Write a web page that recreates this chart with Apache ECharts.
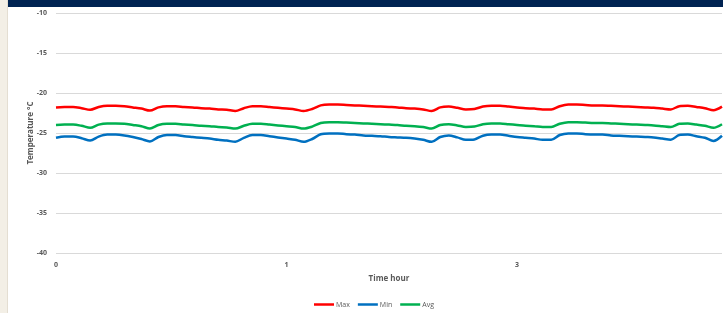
<!DOCTYPE html>
<html>
<head>
<meta charset="utf-8">
<script src="https://cdn.jsdelivr.net/npm/echarts@6/dist/echarts.min.js"></script>
<style>
  html, body { margin: 0; padding: 0; background: #fff; }
  #side { position: absolute; left: 0; top: 0; width: 7px; height: 313px; background: #f3efe6; border-right: 1px solid #e4ded2; }
  #head { position: absolute; left: 8px; top: 0; width: 715px; height: 7px; background: #002352; }
  #chart { position: absolute; left: 0; top: 0; width: 723px; height: 313px; }
</style>
</head>
<body>
<div id="chart"></div>
<div id="side"></div>
<div id="head"></div>
<script>
// x labels shown every 27 samples
const xLabels = ['0', '1', '3']
const labelStep = 27

// temperature readings, °C
const maxTemp = [
  -21.8, -21.75, -21.75, -21.9, -22.1, -21.75, -21.6, -21.6, -21.65, -21.8,
  -21.95, -22.2, -21.8, -21.65, -21.65, -21.75, -21.8, -21.9, -21.95, -22.05,
  -22.1, -22.25, -21.9, -21.65, -21.65, -21.75, -21.85, -21.95, -22.05, -22.25,
  -22.0, -21.55, -21.45, -21.45, -21.5, -21.55, -21.6, -21.65, -21.7, -21.75,
  -21.8, -21.9, -21.95, -22.05, -22.25, -21.8, -21.7, -21.85, -22.05, -22.0,
  -21.7, -21.6, -21.6, -21.7, -21.8, -21.9, -21.95, -22.05, -22.05, -21.65,
  -21.45, -21.45, -21.5, -21.55, -21.55, -21.6, -21.65, -21.7, -21.75, -21.8,
  -21.85, -21.95, -22.05, -21.65, -21.6, -21.75, -21.9, -22.15, -21.7
]
const minTemp = [
  -25.6, -25.45, -25.45, -25.65, -25.95, -25.45, -25.2, -25.2, -25.3, -25.5,
  -25.75, -26.05, -25.5, -25.25, -25.25, -25.4, -25.5, -25.6, -25.7, -25.85,
  -25.95, -26.1, -25.6, -25.25, -25.25, -25.4, -25.55, -25.7, -25.85, -26.1,
  -25.75, -25.15, -25.05, -25.05, -25.15, -25.2, -25.3, -25.35, -25.4, -25.5,
  -25.55, -25.6, -25.7, -25.85, -26.1, -25.5, -25.3, -25.55, -25.85, -25.8,
  -25.35, -25.2, -25.2, -25.35, -25.5, -25.6, -25.7, -25.85, -25.85, -25.25,
  -25.05, -25.05, -25.15, -25.2, -25.2, -25.3, -25.35, -25.4, -25.45, -25.5,
  -25.55, -25.7, -25.85, -25.25, -25.2, -25.4, -25.6, -26.0, -25.35
]
const avgTemp = [
  -24.0, -23.95, -23.95, -24.1, -24.35, -23.95, -23.8, -23.8, -23.85, -24.0,
  -24.15, -24.45, -24.0, -23.85, -23.85, -23.95, -24.0, -24.1, -24.15, -24.25,
  -24.3, -24.45, -24.1, -23.85, -23.85, -23.95, -24.05, -24.15, -24.25, -24.45,
  -24.2, -23.75, -23.65, -23.65, -23.7, -23.75, -23.8, -23.85, -23.9, -23.95,
  -24.0, -24.1, -24.15, -24.25, -24.45, -24.0, -23.9, -24.05, -24.25, -24.2,
  -23.9, -23.8, -23.8, -23.9, -24.0, -24.1, -24.15, -24.25, -24.25, -23.85,
  -23.65, -23.65, -23.7, -23.75, -23.75, -23.8, -23.85, -23.9, -23.95, -24.0,
  -24.05, -24.15, -24.25, -23.85, -23.8, -23.95, -24.1, -24.35, -23.9
]

const categories = maxTemp.map((v, i) => i)

const chart = echarts.init(document.getElementById('chart'))
const font = 'Open Sans'

function lineSeries(name, data, color) {
    return {
        name: name,
        type: 'line',
        data: data,
        smooth: 0.3,
        symbol: 'none',
        lineStyle: { color: color, width: 2.5 },
        itemStyle: { color: color }
    }
}

chart.setOption({
    animation: false,
    grid: { left: 56, right: 1, top: 13, bottom: 60 },
    legend: {
        bottom: 0,
        left: 309,
        icon: 'rect',
        itemWidth: 20,
        itemHeight: 2.5,
        itemGap: 8,
        textStyle: { fontFamily: font, fontSize: 7, color: '#595959', padding: [0, 0, 0, -3] },
        data: ['Max', 'Min', 'Avg']
    },
    xAxis: {
        type: 'category',
        data: categories,
        boundaryGap: false,
        name: 'Time hour',
        nameLocation: 'middle',
        nameGap: 22,
        nameTextStyle: { fontFamily: font, fontSize: 8, fontWeight: 'bold', color: '#595959' },
        axisLine: { show: false },
        axisTick: { show: false },
        axisLabel: {
            interval: labelStep - 1,
            margin: 8,
            fontFamily: font,
            fontSize: 7,
            fontWeight: 'bold',
            color: '#595959',
            formatter: (v, i) => xLabels[i / labelStep] ?? ''
        }
    },
    yAxis: {
        type: 'value',
        min: -40,
        max: -10,
        interval: 5,
        name: 'Temperature °C',
        nameLocation: 'middle',
        nameGap: 21,
        nameMoveOverlap: false,
        nameTextStyle: { fontFamily: font, fontSize: 8, fontWeight: 'bold', color: '#595959' },
        axisLine: { show: false },
        axisTick: { show: false },
        splitLine: { lineStyle: { color: '#d9d9d9', width: 1 } },
        axisLabel: { margin: 9, fontFamily: font, fontSize: 7, fontWeight: 'bold', color: '#595959' }
    },
    series: [
        lineSeries('Max', maxTemp, '#ff0000'),
        lineSeries('Min', minTemp, '#0070c0'),
        lineSeries('Avg', avgTemp, '#00b050')
    ]
})
</script>
</body>
</html>
